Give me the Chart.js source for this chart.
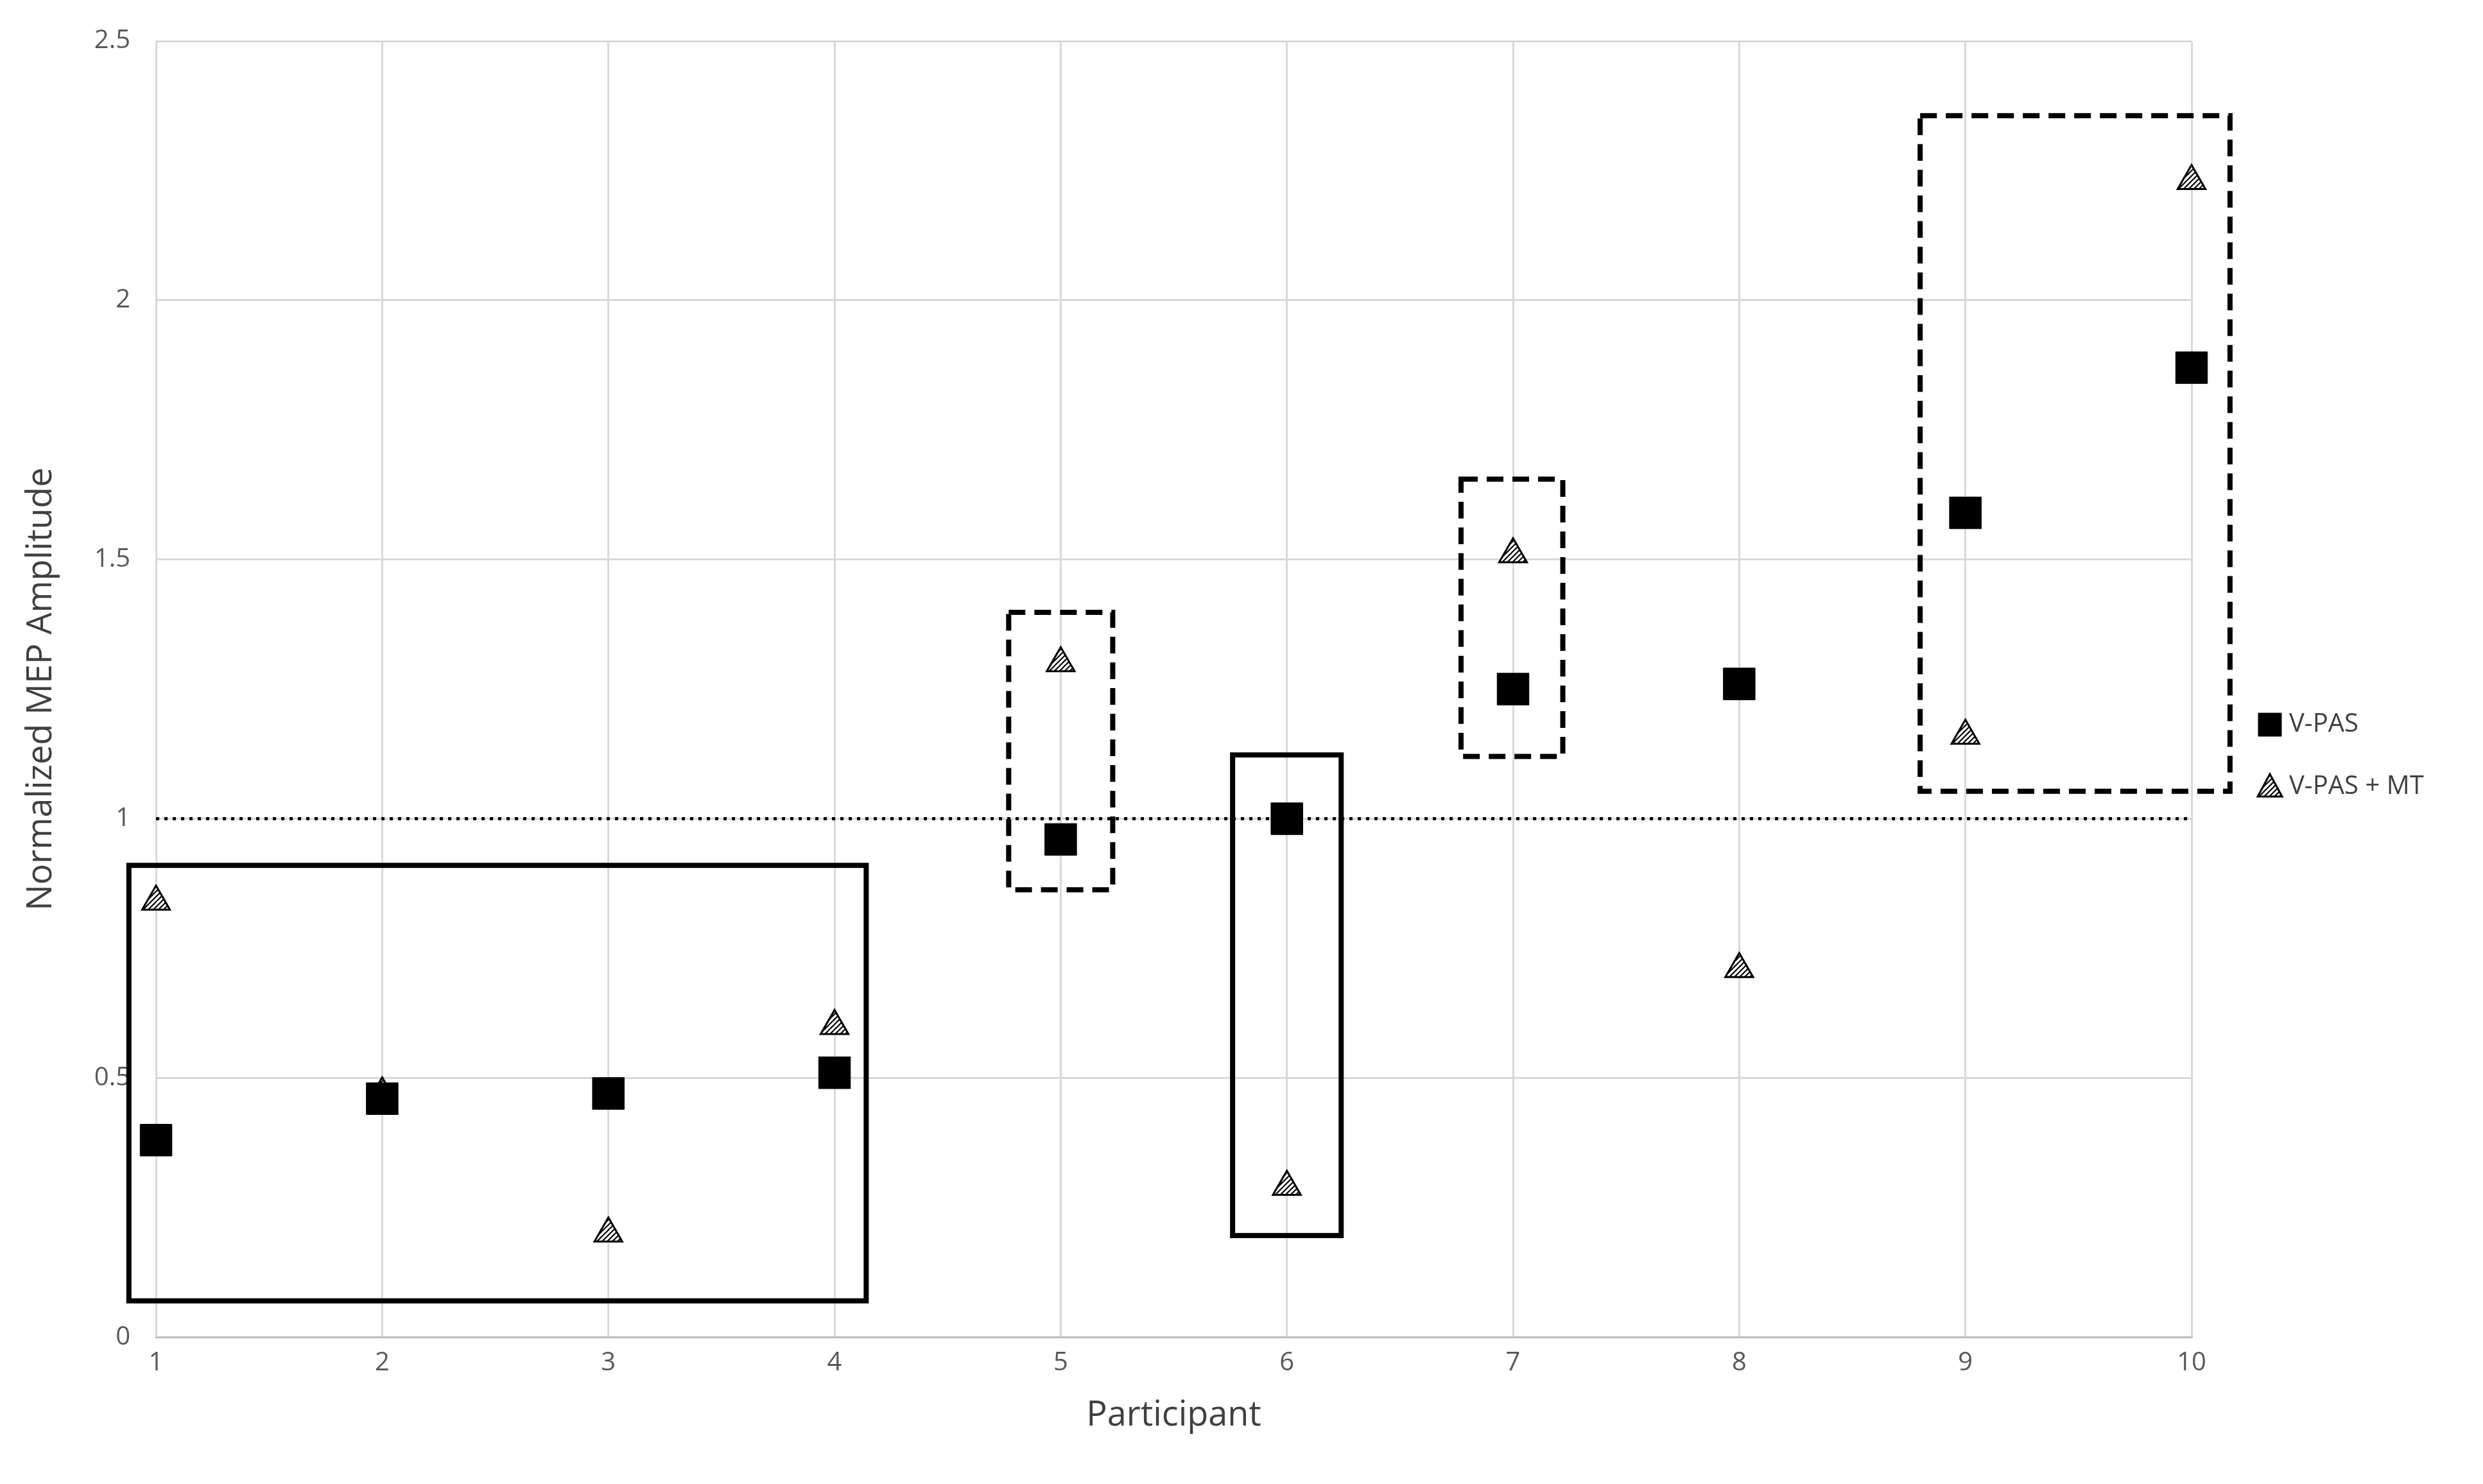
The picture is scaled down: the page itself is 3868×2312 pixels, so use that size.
<!DOCTYPE html>
<html><head><meta charset="utf-8">
<script src="https://cdn.jsdelivr.net/npm/chart.js@4"></script>
<style>html,body{margin:0;padding:0;background:#fff}#w{width:3868px;height:2312px}</style>
</head><body><div id="w"><canvas id="c"></canvas></div>
<script>
const participants = [1,2,3,4,5,6,7,8,9,10];
const vpas = [0.38,0.46,0.47,0.51,0.96,1.0,1.25,1.26,1.59,1.87];
const vpasMT = [0.84,0.47,0.2,0.6,1.3,0.29,1.51,0.71,1.16,2.23];
const yTicks = [0,0.5,1,1.5,2,2.5];
const seriesNames = ['V-PAS','V-PAS + MT'];
// boxes: [xMin, xMax, yMin, yMax, dashed]
const boxX0 = [0.88, 5.76, 4.77, 6.77, 8.80];
const boxX1 = [4.14, 6.24, 5.23, 7.22, 10.17];
const boxY0 = [0.07, 0.196, 0.863, 1.12, 1.053];
const boxY1 = [0.91, 1.123, 1.398, 1.655, 2.356];
const boxDashed = [false, false, true, true, true];
const refLine = 1;
const FONT = 'Open Sans, Liberation Sans, sans-serif';

const pc = document.createElement('canvas'); pc.width = 8; pc.height = 8;
const px = pc.getContext('2d');
px.fillStyle='#fff'; px.fillRect(0,0,8,8);
px.strokeStyle='#000'; px.lineWidth=2.2;
px.beginPath(); px.moveTo(0,8); px.lineTo(8,0); px.moveTo(-4,4); px.lineTo(4,-4); px.moveTo(4,12); px.lineTo(12,4); px.stroke();
const hatch = document.getElementById('c').getContext('2d').createPattern(pc,'repeat');

const overlay = {
  id:'overlay',
  afterDatasetsDraw(chart){
    const {ctx, scales:{x,y}, chartArea} = chart;
    ctx.save();
    ctx.strokeStyle='#000';
    ctx.lineWidth=5; ctx.setLineDash([5,8]);
    ctx.beginPath(); ctx.moveTo(x.getPixelForValue(1), y.getPixelForValue(refLine));
    ctx.lineTo(x.getPixelForValue(10), y.getPixelForValue(refLine)); ctx.stroke();
    ctx.lineWidth=8;
    for(let i=0;i<boxX0.length;i++){
      ctx.setLineDash(boxDashed[i]?[26,14]:[]);
      const a=x.getPixelForValue(boxX0[i]), b=x.getPixelForValue(boxX1[i]);
      const t=y.getPixelForValue(boxY1[i]), d=y.getPixelForValue(boxY0[i]);
      ctx.strokeRect(a,t,b-a,d-t);
    }
    // legend
    ctx.setLineDash([]);
    const lx = chartArea.right + 122;
    const ly = [chartArea.top + 1065, chartArea.top + 1162];
    chart.data.datasets.forEach((ds,i)=>{
      ctx.fillStyle = ds.backgroundColor; ctx.strokeStyle='#000'; ctx.lineWidth = i===0?1:3;
      ctx.beginPath();
      if(i===0){ ctx.rect(lx-18, ly[i]-18, 36, 36); }
      else { ctx.moveTo(lx, ly[i]-20); ctx.lineTo(lx+19, ly[i]+15); ctx.lineTo(lx-19, ly[i]+15); ctx.closePath(); }
      ctx.fill(); ctx.stroke();
      ctx.fillStyle='#404040'; ctx.font='40px '+FONT; ctx.textBaseline='middle';
      ctx.fillText(seriesNames[i], lx+30, ly[i]);
    });
    ctx.restore();
  }
};

new Chart(document.getElementById('c'), {
  type:'scatter',
  data:{datasets:[
    {label:seriesNames[0], data:participants.map((p,i)=>({x:p,y:vpas[i]})), pointStyle:'rect', pointRadius:35, pointHoverRadius:35, backgroundColor:'#000', borderColor:'#000', borderWidth:1, clip:false},
    {label:seriesNames[1], data:participants.map((p,i)=>({x:p,y:vpasMT[i]})), pointStyle:'triangle', pointRadius:25, pointHoverRadius:25, backgroundColor:hatch, borderColor:'#000', borderWidth:3, clip:false}
  ]},
  options:{
    responsive:true, maintainAspectRatio:false, animation:false,
    layout:{padding:{top:48,right:454,left:28,bottom:70}},
    plugins:{ tooltip:{enabled:false}, legend:{display:false} },
    scales:{
      x:{type:'linear', min:1, max:10, afterBuildTicks:s=>{s.ticks=participants.map(v=>({value:v}));},
         grid:{color:'#d9d9d9', lineWidth:3, drawTicks:false}, border:{color:'#bfbfbf', width:3},
         ticks:{color:'#595959', font:{family:FONT, size:40}, padding:16},
         title:{display:true, text:'Participant', color:'#404040', font:{family:FONT, size:54}, padding:{top:10}}},
      y:{min:0, max:2.5, afterBuildTicks:s=>{s.ticks=yTicks.map(v=>({value:v}));},
         grid:{color:'#d9d9d9', lineWidth:3, drawTicks:false}, border:{display:false},
         ticks:{color:'#595959', font:{family:FONT, size:40}, padding:40, callback:v=>String(v)},
         title:{display:true, text:'Normalized MEP Amplitude', color:'#404040', font:{family:FONT, size:54}, padding:{bottom:10}}}
    }
  },
  plugins:[overlay]
});
</script></body></html>
